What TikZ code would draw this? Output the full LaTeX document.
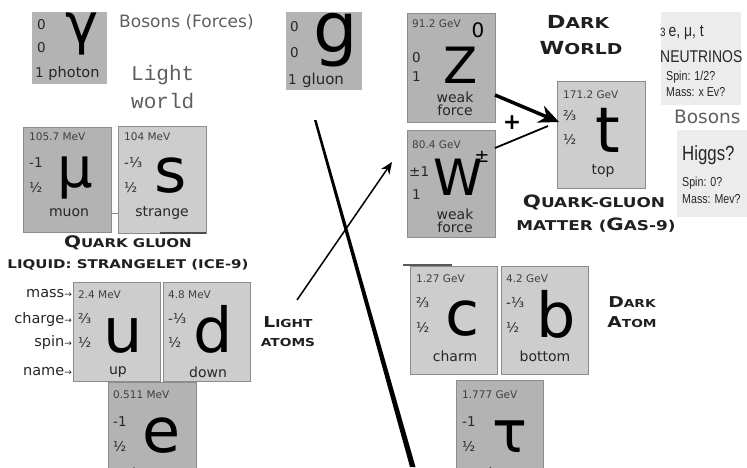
\documentclass[tikz,border=0pt]{standalone}
\usepackage{fontspec}
\setmainfont{DejaVu Sans}
\newfontfamily\hfont[FakeStretch=1.25]{DejaVu Sans}
\newfontfamily\nfont[FakeStretch=0.82]{Liberation Sans}
\newfontfamily\mfont{Liberation Mono}
\usetikzlibrary{arrows.meta,calc}
\newcommand\fs[1]{\fontsize{#1}{#1}\selectfont}
\definecolor{dkbox}{HTML}{B3B3B3}
\definecolor{ltbox}{HTML}{CDCDCD}
\definecolor{bord}{HTML}{8C8C8C}
\definecolor{pale}{HTML}{ECECEC}
\definecolor{txtg}{HTML}{5E5E5E}
\definecolor{massg}{HTML}{404040}
\begin{document}
\begin{tikzpicture}[x=1pt,y=-1pt,
  pbox/.style={anchor=north west, inner sep=0, outer sep=0, draw=bord, line width=0.8pt},
  dk/.style={pbox, fill=dkbox},
  lt/.style={pbox, fill=ltbox},
  dk0/.style={anchor=north west, inner sep=0, outer sep=0, fill=dkbox},
  palebox/.style={anchor=north west, inner sep=0, outer sep=0, fill=pale},
  mass/.style={anchor=west, inner sep=0, font=\fs{10.5}, text=massg},
  qn/.style={anchor=west, inner sep=0, font=\fs{13.5}, text=black!85},
  sym/.style={anchor=base, inner sep=0, font=\fs{62}},
  pn/.style={inner sep=0, font=\fs{14}, text=black!85},
  hd/.style={inner sep=0, font=\hfont\bfseries, text=black!88},
  nt/.style={anchor=west, inner sep=0, font=\nfont, text=black!85},
  gr/.style={anchor=west, inner sep=0, text=txtg}
]
\useasboundingbox (0,0) rectangle (747,467);
\clip (0,0) rectangle (747,467);

% ---------- photon ----------
\node[dk0, minimum width=75pt, minimum height=72pt] (ph) at (32,12) {};
\node[qn] (ph-q) at (37,25) {0};
\node[qn] (ph-s) at (37,48) {0};
\node[qn] (ph-j) at (35,73) {1};
\node[sym, font=\fs{56}] (ph-y) at (82,43) {γ};
\node[pn, font=\fs{14.5}] (ph-n) at (74,73) {photon};

% ---------- gluon ----------
\node[dk0, minimum width=76pt, minimum height=78pt] (gl) at (286,12) {};
\node[qn] (gl-q) at (290,27) {0};
\node[qn] (gl-s) at (290,53) {0};
\node[qn] (gl-j) at (288,80) {1};
\node[sym, font=\fs{70}] (gl-y) at (336,52) {g};
\node[pn, font=\fs{15}] (gl-n) at (323,80) {gluon};

% ---------- Z ----------
\node[dk, minimum width=88pt, minimum height=109pt] (Z) at (407,13) {};
\node[mass] (Z-m) at (412,24) {91.2 GeV};
\node[inner sep=0, font=\fs{20}] (Z-sup) at (478,30) {0};
\node[qn] (Z-q) at (412,58) {0};
\node[qn] (Z-s) at (412,77) {1};
\node[sym, font=\fs{50}] (Z-y) at (461,83) {Z};
\node[pn] (Z-n1) at (455,97) {weak};
\node[pn] (Z-n2) at (455,110) {force};

% ---------- W ----------
\node[dk, minimum width=88pt, minimum height=107pt] (W) at (407,130) {};
\node[mass] (W-m) at (412,145) {80.4 GeV};
\node[inner sep=0, font=\fs{18}] (W-sup) at (482,157) {±};
\node[qn] (W-q) at (409,172) {±1};
\node[qn] (W-s) at (412,195) {1};
\node[sym, font=\fs{50}] (W-y) at (458,195) {W};
\node[pn] (W-n1) at (455,214) {weak};
\node[pn] (W-n2) at (455,227) {force};

% ---------- top ----------
\node[lt, minimum width=88pt, minimum height=107pt] (t) at (557,81) {};
\node[mass] (t-m) at (563,95) {171.2 GeV};
\node[qn] (t-q) at (563,116) {⅔};
\node[qn] (t-s) at (563,140) {½};
\node[sym, font=\fs{63}] (t-y) at (608,152) {t};
\node[pn] (t-n) at (603,171) {top};

% ---------- muon ----------
\node[dk, minimum width=88pt, minimum height=105pt] (mu) at (23,127) {};
\node[mass] (mu-m) at (29,137) {105.7 MeV};
\node[qn] (mu-q) at (29,163) {-1};
\node[qn] (mu-s) at (29,188) {½};
\node[sym, font=\fs{56}] (mu-y) at (75,187) {μ};
\node[pn] (mu-n) at (69,213) {muon};

% ---------- strange ----------
\node[lt, minimum width=88pt, minimum height=107pt] (s) at (118,126) {};
\node[mass] (s-m) at (124,137) {104 MeV};
\node[qn] (s-q) at (124,163) {-⅓};
\node[qn] (s-s) at (124,188) {½};
\node[sym] (s-y) at (171,192) {s};
\node[pn] (s-n) at (162,213) {strange};
\draw[bord, line width=0.8pt] (mu.east |- mu-n.center) -- (s.west |- mu-n.center);
\draw[black!70, line width=1.2pt] ($(s.south east)+(-46,0)$) -- (s.south east);

% ---------- up ----------
\node[lt, minimum width=87pt, minimum height=99pt] (u) at (73,282) {};
\node[mass] (u-m) at (78,295) {2.4 MeV};
\node[qn] (u-q) at (78,319) {⅔};
\node[qn] (u-s) at (78,343) {½};
\node[sym] (u-y) at (123,352) {u};
\node[pn] (u-n) at (118,372) {up};

% ---------- down ----------
\node[lt, minimum width=87pt, minimum height=99pt] (d) at (163,282) {};
\node[mass] (d-m) at (168,295) {4.8 MeV};
\node[qn] (d-q) at (168,319) {-⅓};
\node[qn] (d-s) at (168,343) {½};
\node[sym] (d-y) at (213,352) {d};
\node[pn] (d-n) at (208,372) {down};

% ---------- electron ----------
\node[dk, minimum width=88pt, minimum height=100pt] (e) at (108,382) {};
\node[mass] (e-m) at (113,395) {0.511 MeV};
\node[qn] (e-q) at (113,422) {-1};
\node[qn] (e-s) at (113,447) {½};
\node[sym] (e-y) at (162,452) {e};
\node[pn] (e-n) at (152,473) {electron};

% ---------- charm ----------
\node[lt, minimum width=87pt, minimum height=108pt] (c) at (410,266) {};
\node[mass] (c-m) at (416,279) {1.27 GeV};
\node[qn] (c-q) at (416,303) {⅔};
\node[qn] (c-s) at (416,328) {½};
\node[sym] (c-y) at (463,335) {c};
\node[pn] (c-n) at (455,356) {charm};
\draw[black!65, line width=1.2pt] ($(c.north west)+(-7,-1)$) -- ($(c.north west)+(42,-1)$);

% ---------- bottom ----------
\node[lt, minimum width=87pt, minimum height=108pt] (b) at (501,266) {};
\node[mass] (b-m) at (506,279) {4.2 GeV};
\node[qn] (b-q) at (506,303) {-⅓};
\node[qn] (b-s) at (506,328) {½};
\node[sym] (b-y) at (556,337) {b};
\node[pn] (b-n) at (545,356) {bottom};

% ---------- tau ----------
\node[dk, minimum width=87pt, minimum height=100pt] (tau) at (456,380) {};
\node[mass] (tau-m) at (462,395) {1.777 GeV};
\node[qn] (tau-q) at (462,422) {-1};
\node[qn] (tau-s) at (462,447) {½};
\node[sym, font=\fs{58}] (tau-y) at (510,452) {τ};
\node[pn] (tau-n) at (500,473) {tau};

% ---------- neutrinos / Higgs ----------
\node[palebox, minimum width=80pt, minimum height=93pt] (nu) at (661,12) {};
\node[nt, font=\nfont\fs{17}] (nu-1) at (660,33) {{\fs{12}3}\,e, μ, t};
\node[nt, font=\nfont\fs{17}] (nu-2) at (660,57) {NEUTRINOS};
\node[nt, font=\nfont\fs{13}] (nu-3) at (666,77) {Spin: 1/2?};
\node[nt, font=\nfont\fs{13}] (nu-4) at (666,92) {Mass: x Ev?};
\node[gr, font=\fs{18.5}] (bos2) at (674,117) {Bosons};
\node[palebox, minimum width=70pt, minimum height=87pt] (hg) at (677,130) {};
\node[nt, font=\nfont\fs{20.5}] (hg-1) at (682,155) {Higgs?};
\node[nt, font=\nfont\fs{13}] (hg-2) at (682,183) {Spin: 0?};
\node[nt, font=\nfont\fs{13}] (hg-3) at (682,199) {Mass: Mev?};

% ---------- headings ----------
\node[gr, font=\fs{17}] (bos1) at (119,22) {Bosons (Forces)};
\node[gr, font=\mfont\fs{21}] (lw1) at (131,75) {Light};
\node[gr, font=\mfont\fs{21}] (lw2) at (131,101) {world};
\node[hd] (dw1) at (578,22) {{\fs{18}D}{\fs{15}ARK}};
\node[hd] (dw2) at (581,48) {{\fs{18}W}{\fs{15}ORLD}};
\node[hd] (qg1) at (128,243) {{\fs{16}Q}{\fs{12}UARK GLUON}};
\node[hd] (qg2) at (128,265) {{\fs{12}LIQUID: STRANGELET (ICE-9)}};
\node[hd] (qm1) at (594,202) {{\fs{17}Q}{\fs{13.5}UARK-GLUON}};
\node[hd] (qm2) at (596,225) {{\fs{13.5}MATTER (}{\fs{17}G}{\fs{13.5}AS-9)}};
\node[hd] (la1) at (288,322) {{\fs{15}L}{\fs{11}IGHT}};
\node[hd] (la2) at (288,342) {{\fs{11}ATOMS}};
\node[hd] (da1) at (632,302) {{\fs{15}D}{\fs{11}ARK}};
\node[hd] (da2) at (632,322) {{\fs{15}A}{\fs{11}TOM}};

% ---------- property labels ----------
\node[inner sep=0, anchor=east, font=\fs{14.5}, text=black!85] (lm) at (72,294) {mass{\fs{9}→}};
\node[inner sep=0, anchor=east, font=\fs{14.5}, text=black!85] (lc) at (72,319) {charge{\fs{9}→}};
\node[inner sep=0, anchor=east, font=\fs{14.5}, text=black!85] (ls) at (72,342) {spin{\fs{9}→}};
\node[inner sep=0, anchor=east, font=\fs{14.5}, text=black!85] (ln) at (72,372) {name{\fs{9}→}};

% ---------- connectors ----------
\fill[black] (314,120) -- (316.5,120) -- (415.5,467) -- (410,467) -- cycle;
\coordinate (la0) at (297,300);
\coordinate (la9) at (392,162);
\draw[line width=1.5pt, -{Stealth[length=12pt,width=10pt]}] (la0) -- (la9);
\coordinate (zs) at ($(Z.south east)+(0,-27)$);
\coordinate (ws) at ($(W.north east)+(0,18)$);
\coordinate (tt) at ($(t.north west)+(2,41)$);
\coordinate (tb) at ($(t.north west)+(-9,45)$);
\draw[line width=3.5pt, -{Stealth[length=20pt,width=18pt]}] (zs) -- (tt);
\draw[line width=1.8pt] (ws) -- (tb);
\node[inner sep=0, font=\bfseries\fs{22}] (plus) at (512,123) {+};
\end{tikzpicture}
\end{document}
